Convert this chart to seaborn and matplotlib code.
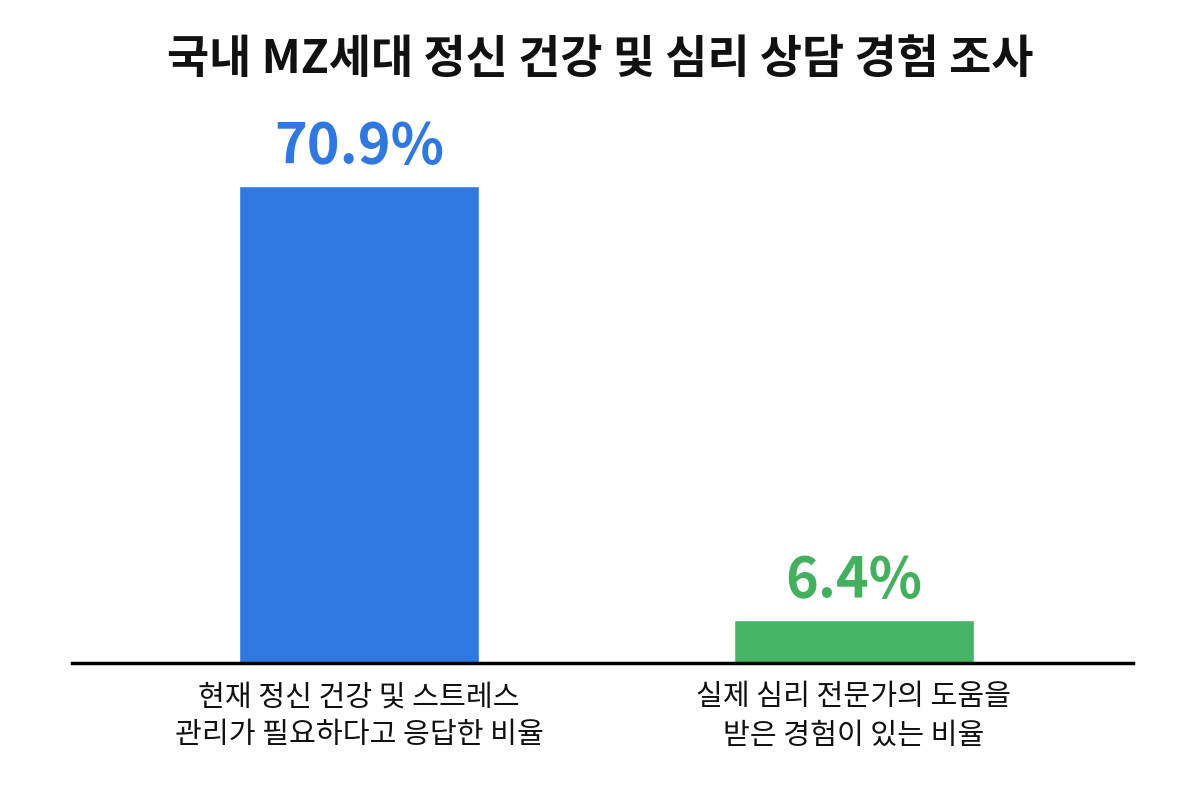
import matplotlib
matplotlib.use("Agg")
import matplotlib.pyplot as plt
import seaborn as sns
import pandas as pd

categories = ["현재 정신 건강 및 스트레스\n관리가 필요하다고 응답한 비율",
              "실제 심리 전문가의 도움을\n받은 경험이 있는 비율"]
values = [70.9, 6.4]
value_labels = ["70.9%", "6.4%"]
bar_colors = ["#2E78E0", "#48B465"]
label_colors = ["#2F78DF", "#45AF60"]
title = "국내 MZ세대 정신 건강 및 심리 상담 경험 조사"

sns.set_theme(style="white")
plt.rcParams['font.family'] = ['Noto Sans CJK KR', 'DejaVu Sans']

df = pd.DataFrame({"category": categories, "value": values})

fig = plt.figure(figsize=(12, 8), dpi=100)
ax = fig.add_axes([0.06, 0.17125, 0.884, 0.70375])

sns.barplot(data=df, x="category", y="value", hue="category",
            palette=bar_colors, width=0.485, legend=False, ax=ax,
            saturation=1)

ax.set_xlim(-0.58, 1.564)
ax.set_ylim(0, 83.7)

for i, (v, lab) in enumerate(zip(values, value_labels)):
    ax.text(i, v + 1.6, lab, ha="center", va="bottom", fontsize=40,
            fontweight="bold", color=label_colors[i])

for s in ["top", "right", "left"]:
    ax.spines[s].set_visible(False)
ax.spines["bottom"].set_color("black")
ax.spines["bottom"].set_linewidth(2.5)
ax.set_yticks([])
ax.set_xlabel("")
ax.set_ylabel("")
ax.tick_params(axis="x", length=0, pad=14, labelsize=21, labelcolor="#111111")
for t in ax.get_xticklabels():
    t.set_linespacing(1.35)

fig.suptitle(title, x=0.5, y=0.925, va="center", fontsize=33,
             fontweight="bold", color="#111111")

fig.savefig("out.png", dpi=100, facecolor="white")
